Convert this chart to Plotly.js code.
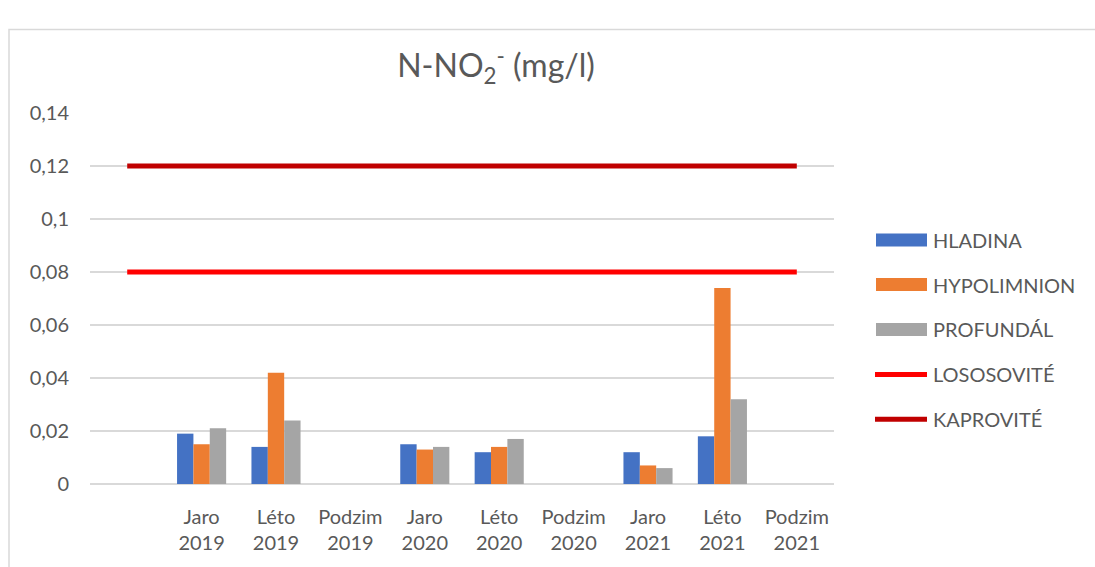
<!DOCTYPE html>
<html>
<head>
<meta charset="utf-8">
<script src="https://cdn.plot.ly/plotly-3.0.1.min.js"></script>
<style>
html,body{margin:0;padding:0;background:#fff;}
#chart{width:1095px;height:567px;}
</style>
</head>
<body>
<div id="chart"></div>
<script>
// ---- data ----
const categories = [' ', 'Jaro<br>2019', 'Léto<br>2019', 'Podzim<br>2019', 'Jaro<br>2020', 'Léto<br>2020', 'Podzim<br>2020', 'Jaro<br>2021', 'Léto<br>2021', 'Podzim<br>2021'];
const hladina     = [null, 0.019, 0.014, null, 0.015, 0.012, null, 0.012, 0.018, null];
const hypolimnion = [null, 0.015, 0.042, null, 0.013, 0.014, null, 0.007, 0.074, null];
const profundal   = [null, 0.021, 0.024, null, 0.014, 0.017, null, 0.006, 0.032, null];
const lososovite = 0.08;
const kaprovite = 0.12;
const seriesNames = ['HLADINA', 'HYPOLIMNION', 'PROFUNDÁL', 'LOSOSOVITÉ', 'KAPROVITÉ'];
const yTickVals = [0, 0.02, 0.04, 0.06, 0.08, 0.1, 0.12, 0.14];
const yTickText = ['0', '0,02', '0,04', '0,06', '0,08', '0,1', '0,12', '0,14'];
const titleText = 'N-NO<sub>2</sub><sup>-</sup> (mg/l)';

// ---- styles ----
const colors = ['#4472C4', '#ED7D31', '#A5A5A5', '#FF0000', '#C00000'];
const FONT = 'Lato, "Open Sans", sans-serif';
const TXT = '#595959';

const W = 1095, H = 567;
const L = 90, R = 834, T = 112.7, B = 484.3;
const px = x => (x - L) / (R - L);
const py = y => (B - y) / (B - T);

const traces = [
  {type: 'bar', x: categories, y: hladina, name: seriesNames[0], marker: {color: colors[0]}},
  {type: 'bar', x: categories, y: hypolimnion, name: seriesNames[1], marker: {color: colors[1]}},
  {type: 'bar', x: categories, y: profundal, name: seriesNames[2], marker: {color: colors[2]}},
  {type: 'scatter', mode: 'lines', x: [categories[0], categories[categories.length - 1]], y: [lososovite, lososovite], name: seriesNames[3], line: {color: colors[3], width: 5}},
  {type: 'scatter', mode: 'lines', x: [categories[0], categories[categories.length - 1]], y: [kaprovite, kaprovite], name: seriesNames[4], line: {color: colors[4], width: 5}}
];

// custom legend
const shapes = [
  {type: 'rect', xref: 'paper', yref: 'paper', x0: px(9), x1: px(1110), y0: py(580), y1: py(29),
   line: {color: '#d9d9d9', width: 1.5}, layer: 'below'}
];
const annotations = [];
const legY = [240, 284.5, 329.5, 374.5, 419.5];
seriesNames.forEach((n, i) => {
  const y = legY[i];
  if (i < 3) {
    shapes.push({type: 'rect', xref: 'paper', yref: 'paper', x0: px(876), x1: px(927), y0: py(y + 6.5), y1: py(y - 6.5),
      fillcolor: colors[i], line: {width: 0}});
  } else {
    shapes.push({type: 'line', xref: 'paper', yref: 'paper', x0: px(875), x1: px(927), y0: py(y), y1: py(y),
      line: {color: colors[i], width: 5}});
  }
  annotations.push({xref: 'paper', yref: 'paper', x: px(931), y: py(y), xanchor: 'left', yanchor: 'middle',
    text: n, showarrow: false, font: {family: FONT, size: 20, color: TXT}});
});

const layout = {
  width: W, height: H,
  margin: {l: L, r: W - R, t: T, b: H - B, pad: 0},
  paper_bgcolor: '#fff', plot_bgcolor: '#fff',
  showlegend: false,
  hovermode: false,
  barmode: 'group', bargap: 0.34, bargroupgap: 0,
  title: {text: titleText, x: 496 / W, xanchor: 'center', y: 1 - 66 / H, yanchor: 'middle', yref: 'container',
    font: {family: FONT, size: 32, color: TXT}},
  xaxis: {type: 'category', categoryorder: 'array', categoryarray: categories, range: [-0.5, categories.length - 0.5],
    tickmode: 'array', tickvals: categories.slice(1), ticktext: categories.slice(1),
    showgrid: false, zeroline: false, showline: false, ticks: '', ticklabelstandoff: 19,
    tickfont: {family: FONT, size: 20, color: TXT}},
  yaxis: {range: [0, 0.14], tickvals: yTickVals, ticktext: yTickText, showgrid: true, gridcolor: '#d9d9d9', gridwidth: 1.5,
    zeroline: true, zerolinecolor: '#d9d9d9', zerolinewidth: 1.5, showline: false, ticks: '', ticklabelstandoff: 20,
    tickfont: {family: FONT, size: 20, color: TXT}},
  shapes: shapes,
  annotations: annotations
};

Plotly.newPlot('chart', traces, layout, {displayModeBar: false, staticPlot: true});
</script>
</body>
</html>
